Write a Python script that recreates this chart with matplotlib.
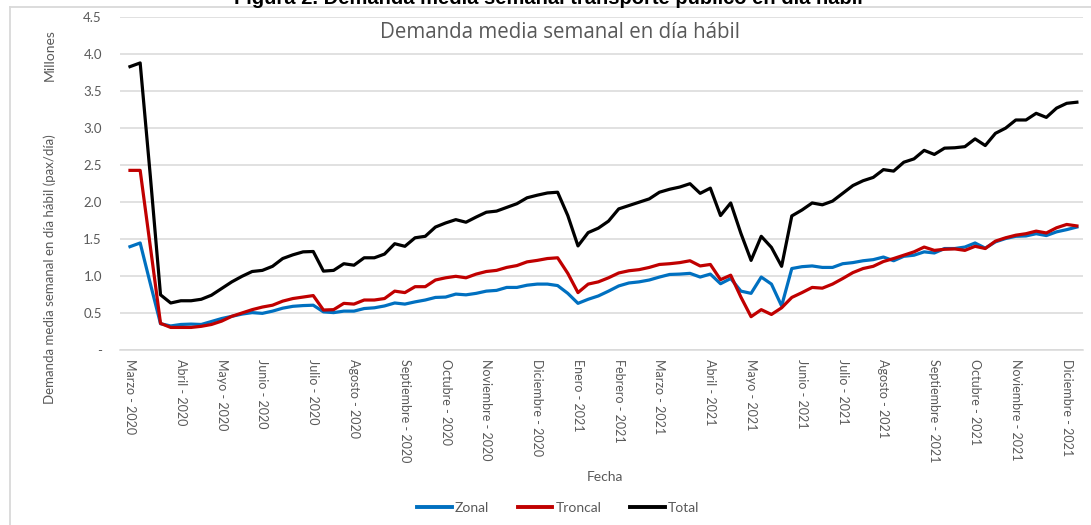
import numpy as np
import pandas as pd
import matplotlib
matplotlib.use("Agg")
import matplotlib.pyplot as plt
from matplotlib.lines import Line2D

# demanda media semanal (millones de pax/dia), semanas desde el 2 de marzo de 2020
zonal = [1.40, 1.45, 0.90, 0.36, 0.33, 0.35, 0.355, 0.35, 0.39, 0.43,
         0.46, 0.49, 0.51, 0.50, 0.53, 0.57, 0.595, 0.605, 0.61, 0.52,
         0.51, 0.53, 0.53, 0.565, 0.575, 0.60, 0.64, 0.625, 0.655, 0.68,
         0.715, 0.72, 0.76, 0.75, 0.77, 0.80, 0.81, 0.85, 0.85, 0.88,
         0.895, 0.895, 0.875, 0.77, 0.635, 0.69, 0.735, 0.80, 0.87, 0.91,
         0.925, 0.95, 0.99, 1.025, 1.03, 1.04, 0.99, 1.03, 0.90, 0.97,
         0.80, 0.77, 0.99, 0.895, 0.60, 1.105, 1.13, 1.14, 1.12, 1.12,
         1.17, 1.185, 1.21, 1.225, 1.26, 1.21, 1.27, 1.285, 1.33, 1.315,
         1.375, 1.375, 1.395, 1.45, 1.38, 1.465, 1.51, 1.54, 1.545, 1.575,
         1.55, 1.60, 1.63, 1.665]

troncal = [2.43, 2.43, 1.40, 0.365, 0.31, 0.31, 0.31, 0.325, 0.35, 0.395,
           0.46, 0.505, 0.55, 0.585, 0.61, 0.665, 0.70, 0.72, 0.74, 0.545,
           0.55, 0.635, 0.625, 0.68, 0.68, 0.70, 0.80, 0.78, 0.86, 0.86,
           0.95, 0.98, 1.00, 0.98, 1.03, 1.065, 1.08, 1.12, 1.145, 1.195,
           1.215, 1.24, 1.25, 1.04, 0.78, 0.895, 0.925, 0.98, 1.045, 1.075,
           1.09, 1.12, 1.16, 1.17, 1.185, 1.21, 1.14, 1.16, 0.955, 1.015,
           0.72, 0.455, 0.55, 0.485, 0.575, 0.715, 0.78, 0.85, 0.84, 0.895,
           0.97, 1.05, 1.105, 1.135, 1.20, 1.24, 1.285, 1.33, 1.395, 1.35,
           1.365, 1.37, 1.35, 1.405, 1.375, 1.475, 1.52, 1.555, 1.575, 1.61,
           1.585, 1.655, 1.70, 1.68]

total = [3.83, 3.88, 2.35, 0.75, 0.64, 0.67, 0.67, 0.69, 0.745, 0.835,
         0.925, 1.00, 1.065, 1.08, 1.135, 1.24, 1.29, 1.33, 1.335, 1.07,
         1.08, 1.17, 1.15, 1.25, 1.25, 1.30, 1.44, 1.405, 1.52, 1.54,
         1.665, 1.72, 1.765, 1.73, 1.80, 1.865, 1.88, 1.93, 1.98, 2.06,
         2.095, 2.125, 2.135, 1.82, 1.41, 1.59, 1.65, 1.745, 1.91, 1.955,
         2.00, 2.045, 2.135, 2.175, 2.205, 2.25, 2.12, 2.19, 1.82, 1.99,
         1.58, 1.215, 1.54, 1.39, 1.135, 1.815, 1.895, 1.99, 1.965, 2.015,
         2.12, 2.225, 2.29, 2.335, 2.44, 2.42, 2.54, 2.585, 2.70, 2.645,
         2.73, 2.735, 2.75, 2.855, 2.765, 2.93, 3.00, 3.11, 3.11, 3.20,
         3.145, 3.27, 3.335, 3.35]

meses = ['Enero', 'Febrero', 'Marzo', 'Abril', 'Mayo', 'Junio', 'Julio',
         'Agosto', 'Septiembre', 'Octubre', 'Noviembre', 'Diciembre']

semanas = pd.date_range('2020-03-02', periods=len(total), freq='W-MON')

W, H = 1091, 525
GRIS = '#595959'
LINEA = '#D9D9D9'
plt.rcParams['font.family'] = ['Lato', 'DejaVu Sans']


def fx(px):
    return px / W


def fy(py):
    return 1 - py / H


fig = plt.figure(figsize=(W / 100, H / 100), dpi=100)
ax = fig.add_axes([fx(120), fy(350.4), fx(1083) - fx(120), fy(17) - fy(350.4)])

x = np.arange(len(total))
ax.plot(x, zonal, color='#0070C0', lw=2.3, label='Zonal', solid_joinstyle='round')
ax.plot(x, troncal, color='#C00000', lw=2.3, label='Troncal', solid_joinstyle='round')
ax.plot(x, total, color='black', lw=2.3, label='Total', solid_joinstyle='round')

ax.set_xlim(-0.98, 93.6)
ax.set_ylim(0, 4.5)

yt = np.arange(0, 4.51, 0.5)
ax.set_yticks(yt)
ax.set_yticklabels(['-' if v == 0 else '%.1f' % v for v in yt])
ax.yaxis.grid(True, color=LINEA, lw=1.1)
ax.set_axisbelow(True)

pos = [i for i in range(len(semanas)) if i == 0 or semanas[i].month != semanas[i - 1].month]
ax.set_xticks(pos)
ax.set_xticklabels(['%s - %d' % (meses[semanas[i].month - 1], semanas[i].year) for i in pos],
                   rotation=-90, va='top', ha='center')

ax.tick_params(axis='y', length=0, pad=13, labelsize=9.5, labelcolor=GRIS)
ax.tick_params(axis='x', length=0, pad=6.5, labelsize=9, labelcolor=GRIS)
for s in ['top', 'right', 'left']:
    ax.spines[s].set_visible(False)
ax.spines['bottom'].set_color(LINEA)
ax.spines['bottom'].set_linewidth(1.1)

# textos
fig.text(fx(560), fy(32), 'Demanda media semanal en día hábil', ha='center', va='center',
         fontsize=14.8, color=GRIS, family=['Open Sans', 'DejaVu Sans'])
fig.text(fx(548), fy(3.5), 'Figura 2. Demanda media semanal transporte público en día hábil',
         ha='center', va='baseline', fontsize=14.5, fontweight='bold', color='black',
         family=['Liberation Sans', 'DejaVu Sans'])
fig.text(fx(50), fy(55), 'Millones', rotation=90, ha='center', va='center', fontsize=10, color=GRIS)
fig.text(fx(50), fy(269), 'Demanda media semanal en día hábil (pax/día)', rotation=90,
         ha='center', va='center', fontsize=9.5, color=GRIS)
fig.text(fx(605), fy(477), 'Fecha', ha='center', va='center', fontsize=10, color=GRIS)

leg = fig.legend(loc='center', bbox_to_anchor=(fx(558), fy(508)), ncol=3, frameon=False,
                 fontsize=10, handlelength=2.5, handletextpad=0.2, columnspacing=2.1)
for t in leg.get_texts():
    t.set_color(GRIS)
for h in leg.get_lines():
    h.set_linewidth(2.8)

# borde del grafico
fig.add_artist(Line2D([fx(10), fx(10)], [fy(7), 0], transform=fig.transFigure, color=LINEA, lw=1.3))
fig.add_artist(Line2D([fx(10), 1], [fy(7), fy(7)], transform=fig.transFigure, color=LINEA, lw=1.3))

fig.savefig('out.png', dpi=100)
